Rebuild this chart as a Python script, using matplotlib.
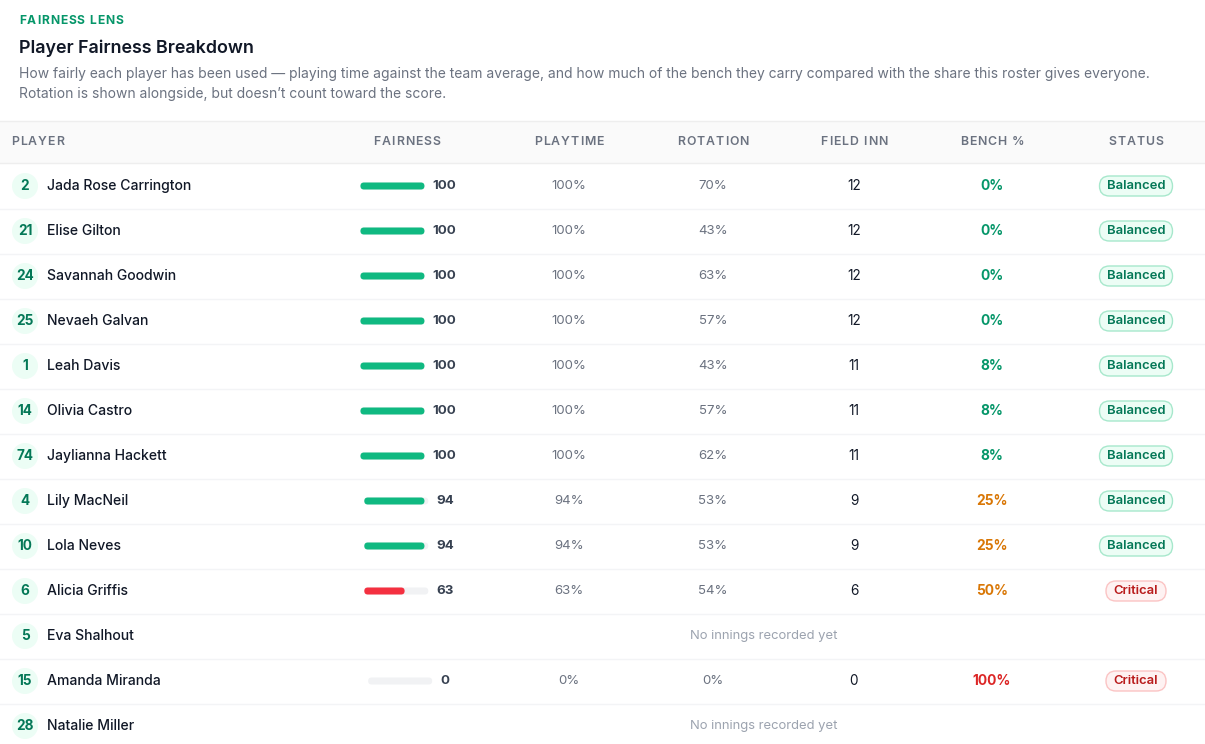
import matplotlib
matplotlib.use("Agg")
import matplotlib.pyplot as plt
from matplotlib.patches import FancyBboxPatch, Circle, Rectangle

plt.rcParams['font.family'] = ['Inter', 'DejaVu Sans']

# donnees du tableau
numbers = [2, 21, 24, 25, 1, 14, 74, 4, 10, 6, 5, 15, 28]
players = ["Jada Rose Carrington", "Elise Gilton", "Savannah Goodwin", "Nevaeh Galvan",
           "Leah Davis", "Olivia Castro", "Jaylianna Hackett", "Lily MacNeil",
           "Lola Neves", "Alicia Griffis", "Eva Shalhout", "Amanda Miranda", "Natalie Miller"]
fairness = [100, 100, 100, 100, 100, 100, 100, 94, 94, 63, None, 0, None]
playtime = [100, 100, 100, 100, 100, 100, 100, 94, 94, 63, None, 0, None]
rotation = [70, 43, 63, 57, 43, 57, 62, 53, 53, 54, None, 0, None]
field_inn = [12, 12, 12, 12, 11, 11, 11, 9, 9, 6, None, 0, None]
bench = [0, 0, 0, 0, 8, 8, 8, 25, 25, 50, None, 100, None]
status = ["Balanced"] * 9 + ["Critical", None, "Critical", None]

headers = ["PLAYER", "FAIRNESS", "PLAYTIME", "ROTATION", "FIELD INN", "BENCH %", "STATUS"]

W, H = 1205, 744
fig = plt.figure(figsize=(W / 100, H / 100), dpi=100)
ax = fig.add_axes([0, 0, 1, 1])
ax.set_xlim(0, W)
ax.set_ylim(H, 0)
ax.axis('off')
renderer = fig.canvas.get_renderer()

GREEN = '#10b981'
DARK_GREEN = '#047857'
GREY = '#6b7280'
INK = '#111827'


def spaced_text(x, y, s, spacing, ha='left', **kw):
    # texte avec espacement des lettres, dessine caractere par caractere
    widths = []
    for ch in s:
        if ch == ' ':
            widths.append(kw['fontsize'] * 0.36)
            continue
        t = ax.text(0, 0, ch, **kw)
        widths.append(t.get_window_extent(renderer).width)
        t.remove()
    total = sum(widths) + spacing * (len(s) - 1)
    if ha == 'center':
        x = x - total / 2
    for ch, w in zip(s, widths):
        if ch != ' ':
            ax.text(x, y, ch, va='center', **kw)
        x += w + spacing


# entete
spaced_text(19, 21, "FAIRNESS LENS", 0.9, fontsize=8.7, fontweight='bold', color='#059669')
ax.text(19, 48, "Player Fairness Breakdown", fontsize=12.9, fontweight='semibold', color=INK, va='center')
ax.text(19, 74, "How fairly each player has been used \u2014 playing time against the team average, and how much of "
        "the bench they carry compared with the share this roster gives everyone.",
        fontsize=10.0, color=GREY, va='center')
ax.text(19, 94, "Rotation is shown alongside, but doesn\u2019t count toward the score.",
        fontsize=10.0, color=GREY, va='center')

# bandeau des colonnes
ax.add_patch(Rectangle((0, 121), W, 42, facecolor='#fafafa', edgecolor='none'))
ax.plot([0, W], [121, 121], color='#eeeeee', lw=1)
ax.plot([0, W], [163, 163], color='#eeeeee', lw=1)
col_x = [11, 407, 569, 713, 854, 992, 1136]
for i, (h, x) in enumerate(zip(headers, col_x)):
    spaced_text(x, 142, h, 1.0, ha='left' if i == 0 else 'center',
                fontsize=8.9, fontweight='semibold', color='#6b7280')

row0, step = 186, 45
for i, name in enumerate(players):
    y = row0 + i * step
    if i < len(players) - 1:
        ax.plot([0, W], [y + 22.5, y + 22.5], color='#f3f4f6', lw=1)

    # pastille numero
    ax.add_patch(Circle((25, y), 13, facecolor='#ecfdf5', edgecolor='none'))
    ax.text(25, y, str(numbers[i]), fontsize=9.8, fontweight='bold', color=DARK_GREEN,
            ha='center', va='center')
    ax.text(47, y, name, fontsize=10.1, fontweight='medium', color=INK, va='center')

    if fairness[i] is None:
        ax.text(764, y, "No innings recorded yet", fontsize=9.4, color='#9ca3af',
                ha='center', va='center')
        continue

    # barre d'equite
    f = fairness[i]
    nd = len(str(f))
    x0 = 408 - (72 + nd * 7.7) / 2
    ax.add_patch(FancyBboxPatch((x0, y - 3.5), 64, 7, boxstyle="round,pad=0,rounding_size=3.5",
                                facecolor='#f1f2f4', edgecolor='none'))
    if f > 0:
        bar_col = GREEN if f >= 80 else '#f43040'
        ax.add_patch(FancyBboxPatch((x0, y - 3.5), 64 * f / 100, 7,
                                    boxstyle="round,pad=0,rounding_size=3.5",
                                    facecolor=bar_col, edgecolor='none'))
    ax.text(x0 + 72, y, str(f), fontsize=9.6, fontweight='bold', color='#374151', va='center')

    ax.text(569, y, f"{playtime[i]}%", fontsize=9.5, color=GREY, ha='center', va='center')
    ax.text(713, y, f"{rotation[i]}%", fontsize=9.5, color=GREY, ha='center', va='center')
    ax.text(854, y, str(field_inn[i]), fontsize=9.8, color=INK, ha='center', va='center')

    b = bench[i]
    if b < 20:
        bc = '#059669'
    elif b < 75:
        bc = '#d97706'
    else:
        bc = '#dc2626'
    ax.text(992, y, f"{b}%", fontsize=9.9, fontweight='bold', color=bc, ha='center', va='center')

    s = status[i]
    if s == "Balanced":
        pw, fc, ec, tc = 73, '#ecfdf5', '#a7e8cc', DARK_GREEN
    else:
        pw, fc, ec, tc = 60, '#fef2f2', '#fbc4c4', '#b91c1c'
    ax.add_patch(FancyBboxPatch((1136 - pw / 2, y - 10), pw, 20,
                                boxstyle="round,pad=0,rounding_size=10",
                                facecolor=fc, edgecolor=ec, lw=1))
    ax.text(1136, y, s, fontsize=9.4, fontweight='semibold', color=tc, ha='center', va='center')

fig.savefig("out.png", dpi=100)
